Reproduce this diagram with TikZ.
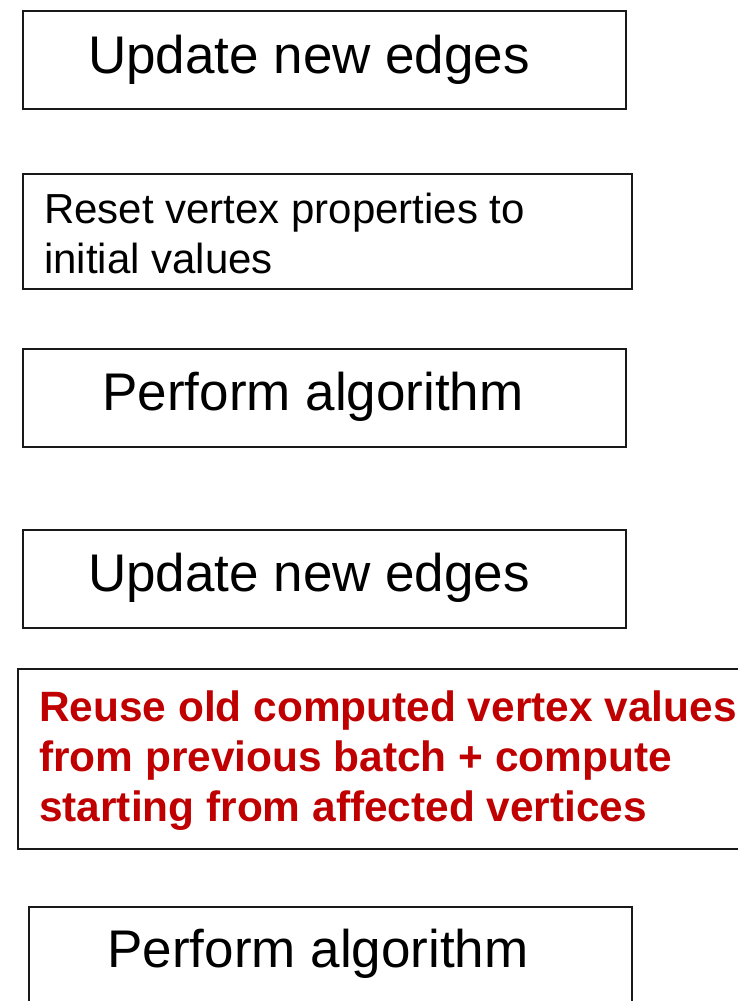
\documentclass[tikz,border=0pt]{standalone}
\usepackage{fontspec}
\setmainfont{Liberation Sans}
\definecolor{alertred}{HTML}{C00000}

\begin{document}
\begin{tikzpicture}[x=1pt,y=-1pt,
  stepbox/.style={draw=black!90, line width=1.5pt, inner sep=0pt, anchor=north west},
  bigtext/.style={font=\fontsize{53}{64}\selectfont, inner sep=0pt, anchor=base},
  midtext/.style={font=\fontsize{42}{50}\selectfont, inner sep=0pt, align=left, anchor=north west},
  redtext/.style={font=\bfseries\fontsize{42.4}{50}\selectfont, text=alertred, inner sep=0pt, align=left, anchor=north west}]
\useasboundingbox (0,0) rectangle (738,1001);

% boxes of the two pipelines
\node[stepbox, minimum width=603pt, minimum height=98pt]  (b1) at (22,10)  {};
\node[stepbox, minimum width=609pt, minimum height=115pt] (b2) at (22,173) {};
\node[stepbox, minimum width=603pt, minimum height=98pt]  (b3) at (22,348) {};
\node[stepbox, minimum width=603pt, minimum height=98pt]  (b4) at (22,529) {};
\node[stepbox, minimum width=740pt, minimum height=180pt] (b5) at (17,668) {};
\node[stepbox, minimum width=603pt, minimum height=120pt] (b6) at (28,906) {};

% labels
\node[bigtext] (t1) at (309,73)  {Update new edges};
\node[midtext] (t2) at (44,193)  {Reset vertex properties to\\initial values};
\node[bigtext] (t3) at (313,410) {Perform algorithm};
\node[bigtext] (t4) at (309,591) {Update new edges};
\node[redtext] (t5) at (39,691)  {Reuse old computed vertex values\\from previous batch + compute\\starting from affected vertices};
\node[bigtext] (t6) at (318,967) {Perform algorithm};
\end{tikzpicture}
\end{document}
